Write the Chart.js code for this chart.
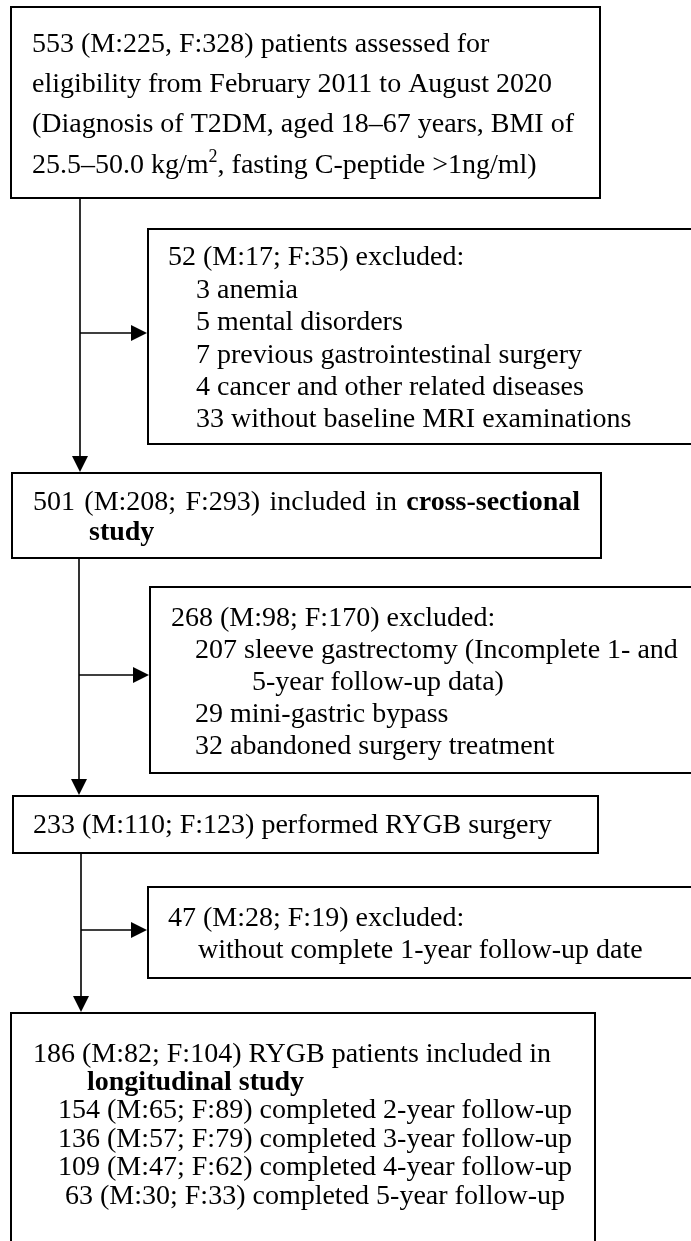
<!DOCTYPE html>
<html>
<head>
<meta charset="utf-8">
<script src="https://cdn.jsdelivr.net/npm/chart.js@4.4.1/dist/chart.umd.min.js"></script>
<style>
  html, body { margin: 0; padding: 0; background: #ffffff; }
  #wrap { width: 691px; height: 1241px; }
</style>
</head>
<body>
<div id="wrap"><canvas id="flow" width="691" height="1241"></canvas></div>
<script>
// patient counts
const stageTotal = [553, 501, 233, 186];
const stageMale = [225, 208, 110, 82];
const stageFemale = [328, 293, 123, 104];

const excludedTotal = [52, 268, 47];
const excludedMale = [17, 98, 28];
const excludedFemale = [35, 170, 19];

const reasonCounts1 = [3, 5, 7, 4, 33];
const reasonLabels1 = ["anemia", "mental disorders", "previous gastrointestinal surgery", "cancer and other related diseases", "without baseline MRI examinations"];
const reasonCounts2 = [207, 29, 32];
const reasonLabels2 = ["sleeve gastrectomy (Incomplete 1- and", "mini-gastric bypass", "abandoned surgery treatment"];
const reasonLabels3 = ["without complete 1-year follow-up date"];

const followYears = [2, 3, 4, 5];
const followTotal = [154, 136, 109, 63];
const followMale = [65, 57, 47, 30];
const followFemale = [89, 79, 62, 33];

// layout, in the 691 x 1241 frame used by both axes
const FONT_SIZE = 28;
const boxes = [
    { x0: 11, y0: 7, x1: 600, y1: 198 },
    { x0: 148, y0: 229, x1: 720, y1: 444 },
    { x0: 12, y0: 473, x1: 601, y1: 558 },
    { x0: 150, y0: 587, x1: 720, y1: 773 },
    { x0: 13, y0: 796, x1: 598, y1: 853 },
    { x0: 148, y0: 887, x1: 720, y1: 978 },
    { x0: 11, y0: 1013, x1: 595, y1: 1270 },
];
const trunks = [
    { x: 80, y0: 198, y1: 473, branchY: 333, branchTo: 148 },
    { x: 79, y0: 558, y1: 796, branchY: 675, branchTo: 150 },
    { x: 81, y0: 853, y1: 1013, branchY: 930, branchTo: 148 },
];

function r(t, b) {
    return { t, b: !!b };
}

function buildLines() {
    const lines = [];
    // top box
    lines.push({ x: 32, y: 52, runs: [r(`${stageTotal[0]} (M:${stageMale[0]}, F:${stageFemale[0]}) patients assessed for`)] });
    lines.push({ x: 32, y: 92, runs: [r("eligibility from February 2011 to August 2020")] });
    lines.push({ x: 32, y: 132, runs: [r("(Diagnosis of T2DM, aged 18\u201367 years, BMI of")] });
    lines.push({ x: 32, y: 173, runs: [r("25.5\u201350.0 kg/m"), { t: "2", sup: true }, r(", fasting C-peptide >1ng/ml)")] });

    // first exclusion
    lines.push({ x: 168, y: 265, runs: [r(`${excludedTotal[0]} (M:${excludedMale[0]}; F:${excludedFemale[0]}) excluded:`)] });
    reasonLabels1.forEach((label, i) => {
        lines.push({ x: 196, y: 298 + i * 32.3, runs: [r(`${reasonCounts1[i]} ${label}`)] });
    });

    // cross-sectional
    lines.push({ x: 33, y: 510, justifyTo: 580, runs: [r(`${stageTotal[1]} (M:${stageMale[1]}; F:${stageFemale[1]}) included in `), r("cross-sectional", true)] });
    lines.push({ x: 89, y: 540, runs: [r("study", true)] });

    // second exclusion
    lines.push({ x: 171, y: 626, runs: [r(`${excludedTotal[1]} (M:${excludedMale[1]}; F:${excludedFemale[1]}) excluded:`)] });
    lines.push({ x: 195, y: 658, runs: [r(`${reasonCounts2[0]} ${reasonLabels2[0]}`)] });
    lines.push({ x: 252, y: 690, runs: [r("5-year follow-up data)")] });
    lines.push({ x: 195, y: 722, runs: [r(`${reasonCounts2[1]} ${reasonLabels2[1]}`)] });
    lines.push({ x: 195, y: 754, runs: [r(`${reasonCounts2[2]} ${reasonLabels2[2]}`)] });

    // RYGB
    lines.push({ x: 33, y: 833, runs: [r(`${stageTotal[2]} (M:${stageMale[2]}; F:${stageFemale[2]}) performed RYGB surgery`)] });

    // third exclusion
    lines.push({ x: 168, y: 926, runs: [r(`${excludedTotal[2]} (M:${excludedMale[2]}; F:${excludedFemale[2]}) excluded:`)] });
    lines.push({ x: 198, y: 958, runs: [r(reasonLabels3[0])] });

    // longitudinal
    lines.push({ x: 33, y: 1062, runs: [r(`${stageTotal[3]} (M:${stageMale[3]}; F:${stageFemale[3]}) RYGB patients included in`)] });
    lines.push({ x: 87, y: 1090, runs: [r("longitudinal study", true)] });
    followYears.forEach((yr, i) => {
        lines.push({
            x: 315, y: 1118 + i * 28.5, align: "center",
            runs: [r(`${followTotal[i]} (M:${followMale[i]}; F:${followFemale[i]}) completed ${yr}-year follow-up`)],
        });
    });
    return lines;
}

function fontFor(seg) {
    const size = seg.sup ? Math.round(FONT_SIZE * 0.66) : FONT_SIZE;
    return `${seg.b ? "bold " : ""}${size}px "Liberation Serif", "Times New Roman", serif`;
}

function drawTextLine(ctx, line, px, py) {
    let natural = 0;
    let spaces = 0;
    line.runs.forEach((seg) => {
        ctx.font = fontFor(seg);
        natural += ctx.measureText(seg.t).width;
        spaces += (seg.t.match(/ /g) || []).length;
    });
    let extra = 0;
    if (line.justifyTo && spaces > 0) {
        extra = (px(line.justifyTo) - px(line.x) - natural) / spaces;
    }
    let cursor = line.align === "center" ? px(line.x) - natural / 2 : px(line.x);
    const base = py(line.y);
    line.runs.forEach((seg) => {
        ctx.font = fontFor(seg);
        const yy = seg.sup ? base - FONT_SIZE * 0.38 : base;
        seg.t.split(/( )/).forEach((tok) => {
            if (!tok) return;
            ctx.fillText(tok, cursor, yy);
            cursor += ctx.measureText(tok).width + (tok === " " ? extra : 0);
        });
    });
}

function arrowHead(ctx, x, y, dir) {
    const len = 16;
    const half = 8;
    ctx.beginPath();
    if (dir === "down") {
        ctx.moveTo(x, y);
        ctx.lineTo(x - half, y - len);
        ctx.lineTo(x + half, y - len);
    } else {
        ctx.moveTo(x, y);
        ctx.lineTo(x - len, y - half);
        ctx.lineTo(x - len, y + half);
    }
    ctx.closePath();
    ctx.fill();
}

const flowPlugin = {
    id: "flowDiagram",
    afterDraw(chart) {
        const { ctx } = chart;
        const xs = chart.scales.x;
        const ys = chart.scales.y;
        const px = (v) => xs.getPixelForValue(v);
        const py = (v) => ys.getPixelForValue(v);

        ctx.save();
        ctx.fillStyle = "#ffffff";
        ctx.fillRect(0, 0, chart.width, chart.height);

        ctx.strokeStyle = "#000000";
        ctx.fillStyle = "#000000";
        ctx.lineWidth = 2;
        boxes.forEach((b) => {
            ctx.strokeRect(px(b.x0), py(b.y0), px(b.x1) - px(b.x0), py(b.y1) - py(b.y0));
        });

        ctx.lineWidth = 1.6;
        trunks.forEach((t) => {
            ctx.beginPath();
            ctx.moveTo(px(t.x), py(t.y0));
            ctx.lineTo(px(t.x), py(t.y1) - 12);
            ctx.moveTo(px(t.x), py(t.branchY));
            ctx.lineTo(px(t.branchTo) - 12, py(t.branchY));
            ctx.stroke();
            arrowHead(ctx, px(t.x), py(t.y1) - 1, "down");
            arrowHead(ctx, px(t.branchTo) - 1, py(t.branchY), "right");
        });

        ctx.textBaseline = "alphabetic";
        ctx.textAlign = "left";
        buildLines().forEach((line) => drawTextLine(ctx, line, px, py));
        ctx.restore();
    },
};

new Chart(document.getElementById("flow"), {
    type: "scatter",
    data: { datasets: [{ data: [], pointRadius: 0 }] },
    options: {
        responsive: false,
        animation: false,
        devicePixelRatio: 1,
        layout: { padding: 0 },
        plugins: { legend: { display: false }, tooltip: { enabled: false } },
        scales: {
            x: { type: "linear", min: 0, max: 691, display: false },
            y: { type: "linear", min: 0, max: 1241, reverse: true, display: false },
        },
    },
    plugins: [flowPlugin],
});
</script>
</body>
</html>
